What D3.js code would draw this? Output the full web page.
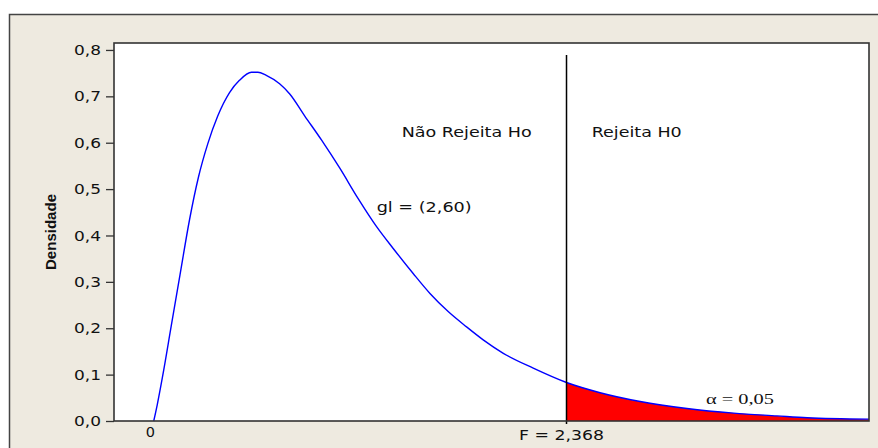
<!DOCTYPE html>
<html><head><meta charset="utf-8">
<script src="https://cdn.jsdelivr.net/npm/d3@7"></script>
<style>
html,body{margin:0;padding:0;background:#fff;}
svg{display:block;}
</style></head>
<body>
<svg id="chart" width="878" height="448"></svg>
<script>
// ---- data ----
const curveX = [0.010, 0.030, 0.060, 0.110, 0.160, 0.215, 0.265, 0.319, 0.375, 0.443, 0.501, 0.568, 0.605, 0.653, 0.729, 0.787, 0.872, 0.968, 1.073, 1.177, 1.283, 1.378, 1.492, 1.588, 1.692, 1.797, 1.892, 2.007, 2.178, 2.368, 2.560, 2.789, 3.056, 3.323, 3.571, 3.743, 4.096];
const curveY = [0.000, 0.035, 0.095, 0.205, 0.315, 0.435, 0.525, 0.598, 0.657, 0.708, 0.735, 0.752, 0.752, 0.745, 0.727, 0.705, 0.658, 0.606, 0.545, 0.480, 0.419, 0.372, 0.318, 0.275, 0.236, 0.203, 0.175, 0.146, 0.114, 0.083, 0.061, 0.042, 0.027, 0.017, 0.011, 0.007, 0.004];
const yTicks = [0, 0.1, 0.2, 0.3, 0.4, 0.5, 0.6, 0.7, 0.8];
const criticalF = 2.368;
const xTickLabels = [{v: 0, t: "0"}, {v: criticalF, t: "F = 2,368"}];
const yLabel = "Densidade";
const regionLabels = ["Não Rejeita Ho", "Rejeita H0"];
const curveLabel = "gl = (2,60)";
const alphaLabel = "\u03b1 = 0,05";

const pts = curveX.map((x, i) => ({x, y: curveY[i]}));

const svg = d3.select("#chart");
const plot = {left: 114, top: 43, right: 869, bottom: 421};

// outer panel
svg.append("rect").attr("x", 9.5).attr("y", 14.5).attr("width", 880).attr("height", 450)
  .attr("fill", "#EEEAE0").attr("stroke", "#444").attr("stroke-width", 1.5);

const x = d3.scaleLinear().domain([-0.217, 4.096]).range([plot.left, plot.right]);
const y = d3.scaleLinear().domain([0, 0.815]).range([plot.bottom, plot.top]);

// plot area
svg.append("rect").attr("x", plot.left).attr("y", plot.top)
  .attr("width", plot.right - plot.left).attr("height", plot.bottom - plot.top)
  .attr("fill", "#fff");

// rejection area
const tail = pts.filter(d => d.x >= criticalF);
svg.append("path").datum(tail)
  .attr("fill", "#FF0000")
  .attr("d", d3.area().x(d => x(d.x)).y0(y(0)).y1(d => y(d.y)).curve(d3.curveMonotoneX));

// density curve
svg.append("path").datum(pts)
  .attr("fill", "none").attr("stroke", "#0000FF").attr("stroke-width", 1.4)
  .attr("d", d3.line().x(d => x(d.x)).y(d => y(d.y)).curve(d3.curveMonotoneX));

// critical line
svg.append("line")
  .attr("x1", x(criticalF)).attr("x2", x(criticalF))
  .attr("y1", y(0.789)).attr("y2", y(0) + 3)
  .attr("stroke", "#000").attr("stroke-width", 1.5);

// plot frame
svg.append("rect").attr("x", plot.left).attr("y", plot.top)
  .attr("width", plot.right - plot.left).attr("height", plot.bottom - plot.top)
  .attr("fill", "none").attr("stroke", "#333").attr("stroke-width", 1.6);

// y axis
const fmt = d => d3.format(".1f")(d).replace(".", ",");
const yAxis = svg.append("g").attr("transform", `translate(${plot.left},0)`)
  .call(d3.axisLeft(y).tickValues(yTicks).tickSize(8).tickPadding(5).tickFormat(fmt));
yAxis.select(".domain").remove();
yAxis.selectAll(".tick line").attr("stroke", "#333").attr("stroke-width", 1.3);
yAxis.selectAll(".tick text")
  .attr("font-family", "DejaVu Sans, Verdana, sans-serif").attr("font-size", 14.5)
  .attr("fill", "#111").attr("textLength", 27).attr("lengthAdjust", "spacingAndGlyphs");

// y label
svg.append("text")
  .attr("transform", `translate(56,232) rotate(-90)`)
  .attr("text-anchor", "middle")
  .attr("font-family", "Liberation Sans, Arial, sans-serif").attr("font-weight", "bold")
  .attr("font-size", 15).attr("fill", "#111")
  .attr("textLength", 76).attr("lengthAdjust", "spacingAndGlyphs")
  .text(yLabel);

// x labels
svg.selectAll(".xlab").data(xTickLabels).enter().append("text")
  .attr("class", "xlab")
  .attr("x", (d, i) => x(d.v) - (i ? 5 : 1.5))
  .attr("y", (d, i) => i ? 440 : 436.5)
  .attr("text-anchor", "middle")
  .attr("font-family", "DejaVu Sans, Verdana, sans-serif").attr("font-size", 14.5)
  .attr("fill", "#111")
  .each(function(d, i) { if (i) d3.select(this).attr("textLength", 85).attr("lengthAdjust", "spacingAndGlyphs"); })
  .text(d => d.t);

// annotations
const note = (t, cx, by, w, fam, size) => svg.append("text")
  .attr("x", cx).attr("y", by).attr("text-anchor", "middle")
  .attr("font-family", fam).attr("font-size", size).attr("fill", "#111")
  .attr("textLength", w).attr("lengthAdjust", "spacingAndGlyphs").text(t);
note(regionLabels[0], 466.7, 137, 130, "DejaVu Sans, Verdana, sans-serif", 14.5);
note(regionLabels[1], 636.7, 137, 90, "DejaVu Sans, Verdana, sans-serif", 14.5);
note(curveLabel, 424.2, 211.5, 95, "DejaVu Sans, Verdana, sans-serif", 14.5);
note(alphaLabel, 740, 404, 68, "Liberation Serif, Times New Roman, serif", 15);
</script>
</body></html>
